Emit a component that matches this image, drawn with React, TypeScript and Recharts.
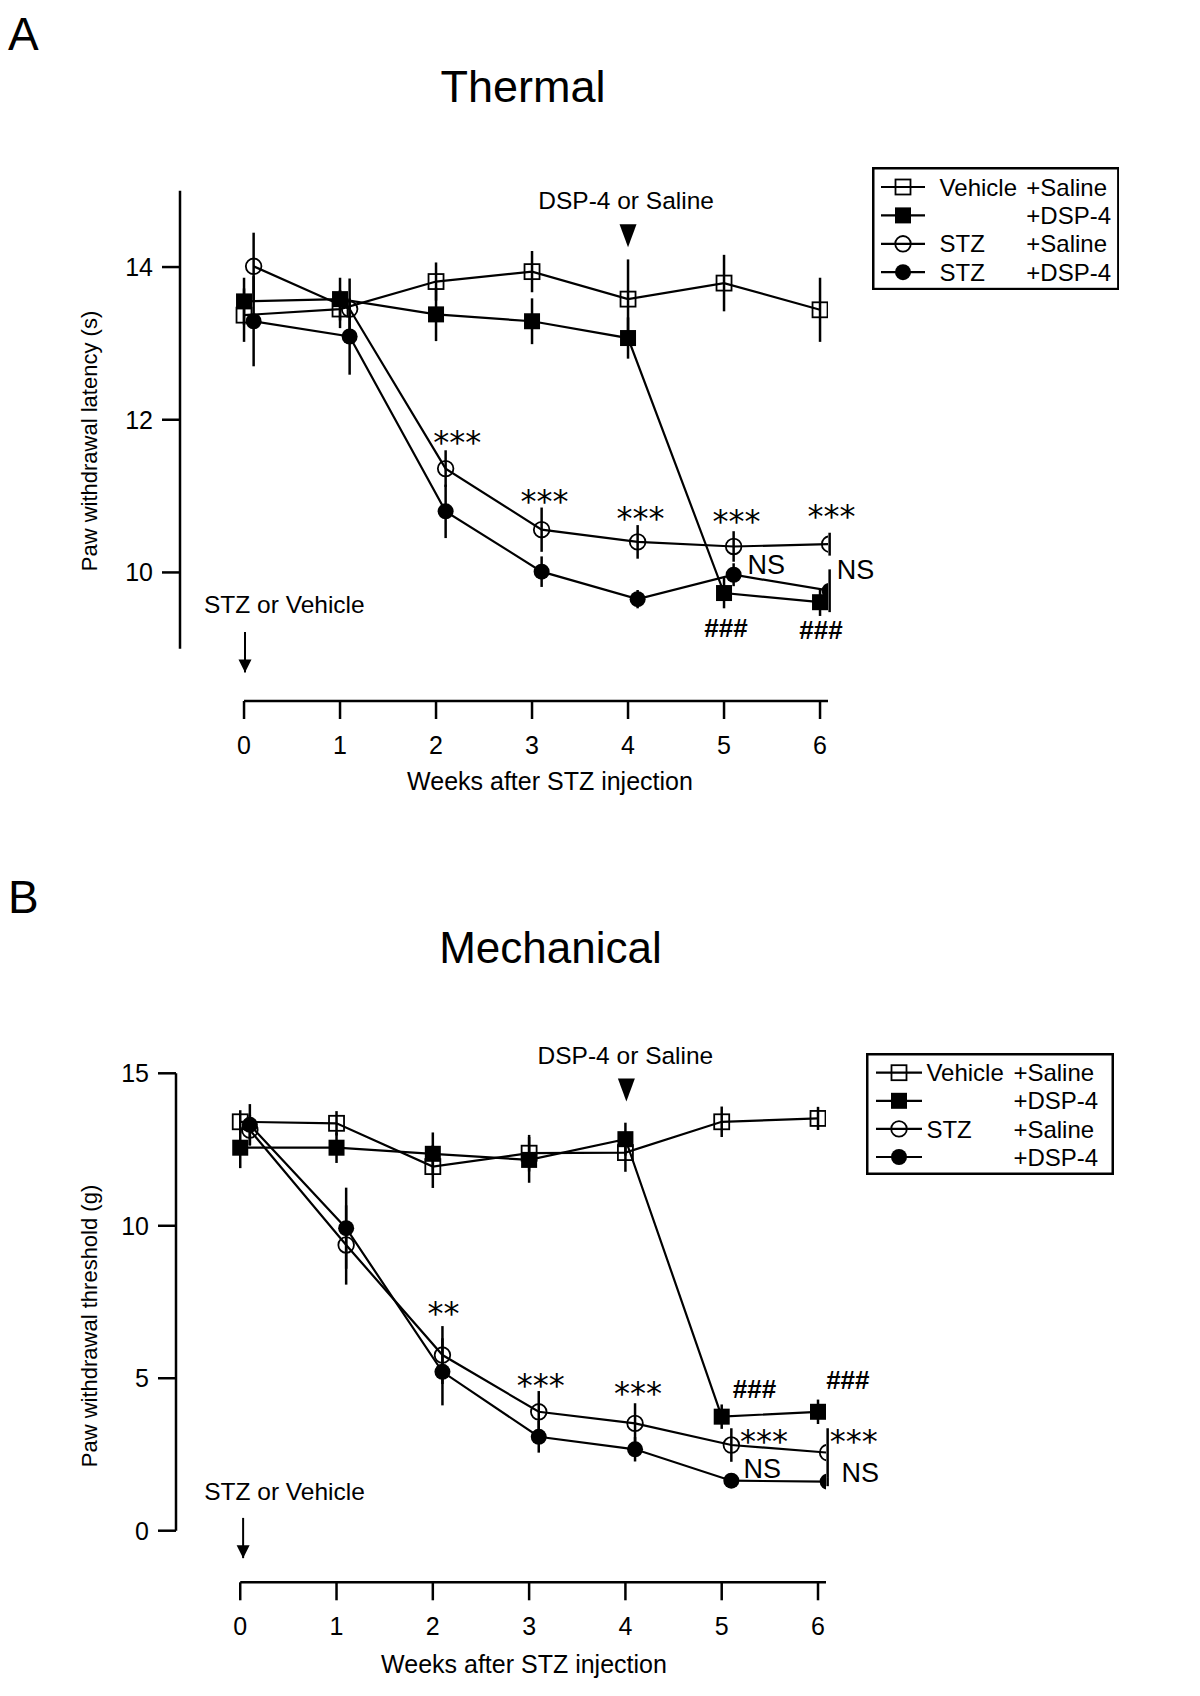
import React from "react";
import { LineChart, Line, XAxis, YAxis, ErrorBar, ReferenceLine, ReferenceDot } from "recharts";

const FONT = '"Liberation Sans", Arial, Helvetica, sans-serif';
const STAR_FONT = '"DejaVu Sans", "Liberation Sans", sans-serif';
const INK = "#000";

// ---- values ----
const WEEKS = [0, 1, 2, 3, 4, 5, 6];

// A: thermal paw withdrawal latency (s), mean and SEM
const THERMAL_VEH_SAL = [13.37, 13.45, 13.81, 13.94, 13.58, 13.79, 13.44];
const THERMAL_VEH_SAL_SEM = [0.35, 0.25, 0.25, 0.27, 0.52, 0.37, 0.42];
const THERMAL_VEH_DSP = [13.55, 13.58, 13.38, 13.29, 13.07, 9.73, 9.61];
const THERMAL_VEH_DSP_SEM = [0.31, 0.28, 0.35, 0.3, 0.27, 0.2, 0.18];
const THERMAL_STZ_SAL = [14.01, 13.45, 11.36, 10.56, 10.4, 10.34, 10.37];
const THERMAL_STZ_SAL_SEM = [0.44, 0.4, 0.24, 0.29, 0.22, 0.2, 0.15];
const THERMAL_STZ_DSP = [13.29, 13.09, 10.8, 10.01, 9.65, 9.97, 9.76];
const THERMAL_STZ_DSP_SEM = [0.59, 0.5, 0.35, 0.2, 0.12, 0.15, 0.28];
const THERMAL_TICKS = [10, 12, 14];

// B: mechanical paw withdrawal threshold (g), mean and SEM
const MECH_VEH_SAL = [13.41, 13.36, 11.94, 12.38, 12.4, 13.41, 13.52];
const MECH_VEH_SAL_SEM = [0.38, 0.4, 0.7, 0.6, 0.63, 0.5, 0.38];
const MECH_VEH_DSP = [12.56, 12.56, 12.36, 12.16, 12.84, 3.74, 3.9];
const MECH_VEH_DSP_SEM = [0.67, 0.5, 0.7, 0.75, 0.54, 0.4, 0.4];
const MECH_STZ_SAL = [13.14, 9.37, 5.76, 3.9, 3.52, 2.81, 2.56];
const MECH_STZ_SAL_SEM = [0.5, 1.3, 0.95, 0.68, 0.66, 0.55, 0.8];
const MECH_STZ_DSP = [13.31, 9.92, 5.21, 3.08, 2.67, 1.64, 1.61];
const MECH_STZ_DSP_SEM = [0.68, 1.33, 1.1, 0.52, 0.4, 0.1, 0.15];
const MECH_TICKS = [0, 5, 10, 15];

const LEGEND_A = [["Vehicle", "+Saline"], ["", "+DSP-4"], ["STZ", "+Saline"], ["STZ", "+DSP-4"]];
const LEGEND_B = [["Vehicle", "+Saline"], ["", "+DSP-4"], ["STZ", "+Saline"], ["", "+DSP-4"]];

// annotations, in (week, value) units
const THERMAL_NOTES = [
  { week: 2.22, value: 11.8, text: "***" },
  { week: 3.13, value: 11.02, text: "***" },
  { week: 4.13, value: 10.8, text: "***" },
  { week: 5.13, value: 10.76, text: "***" },
  { week: 6.12, value: 10.82, text: "***" },
  { week: 5.44, value: 10.11, text: "NS" },
  { week: 6.37, value: 10.04, text: "NS" },
  { week: 5.02, value: 9.28, text: "###" },
  { week: 6.01, value: 9.25, text: "###" },
  { week: 3.98, value: 14.88, text: "DSP-4 or Saline" },
  { week: 0.42, value: 9.59, text: "STZ or Vehicle" },
];
const MECH_NOTES = [
  { week: 2.11, value: 7.35, text: "**" },
  { week: 3.12, value: 4.98, text: "***" },
  { week: 4.13, value: 4.72, text: "***" },
  { week: 5.34, value: 4.65, text: "###" },
  { week: 6.31, value: 4.96, text: "###" },
  { week: 5.44, value: 3.17, text: "***" },
  { week: 6.37, value: 3.17, text: "***" },
  { week: 5.42, value: 2.05, text: "NS" },
  { week: 6.44, value: 1.92, text: "NS" },
  { week: 4.0, value: 15.6, text: "DSP-4 or Saline" },
  { week: 0.46, value: 1.3, text: "STZ or Vehicle" },
];

// ---- layout ----
const X_MIN = -0.667;
const X_MAX = 6.083;
const X_AXIS_H = 60;
const CIRCLE_SHIFT = 0.1;
const TICK_STYLE = { fontSize: "25px", fontFamily: FONT };

type Kind = "openSquare" | "square" | "openCircle" | "circle";
const KINDS: Kind[] = ["openSquare", "square", "openCircle", "circle"];

function build(values: number[], sems: number[], shift: number) {
  return WEEKS.map((w, i) => ({ x: w + shift, y: values[i], err: sems[i] }));
}

function Marker({ kind, cx, cy }: { kind: Kind; cx: number; cy: number }) {
  if (kind === "openSquare")
    return <rect x={cx - 7.5} y={cy - 7.5} width={15} height={15} fill="none" stroke={INK} strokeWidth={1.8} />;
  if (kind === "square") return <rect x={cx - 8} y={cy - 8} width={16} height={16} fill={INK} />;
  if (kind === "openCircle") return <circle cx={cx} cy={cy} r={7.8} fill="none" stroke={INK} strokeWidth={1.8} />;
  return <circle cx={cx} cy={cy} r={8} fill={INK} />;
}

function XTick(p: any) {
  return (
    <text x={p.x} y={p.y} dy="0.71em" textAnchor="middle" fontSize={25} style={TICK_STYLE} fill={INK}>
      {p.payload.value}
    </text>
  );
}

function YTick(p: any) {
  return (
    <text x={p.x} y={p.y} dy="0.36em" textAnchor="end" fontSize={25} style={TICK_STYLE} fill={INK}>
      {p.payload.value}
    </text>
  );
}

function noteShape(text: string) {
  const stars = text.startsWith("*");
  const hashes = text.startsWith("#");
  const long = text.length > 4;
  return (p: any) => (
    <text x={p.cx} y={p.cy} dy={stars ? "0.55em" : "0.36em"} textAnchor="middle" fill={INK}
          fontFamily={stars ? STAR_FONT : FONT} fontWeight={hashes ? 700 : 400}
          fontSize={stars ? 32 : long ? 24.5 : hashes ? 26 : 27}>
      {text}
    </text>
  );
}

function triangleShape(p: any) {
  const { cx, cy } = p;
  return <polygon points={`${cx - 8.5},${cy - 11.5} ${cx + 8.5},${cy - 11.5} ${cx},${cy + 11.5}`} fill={INK} />;
}

function arrowHead(p: any) {
  const { cx, cy } = p;
  return <polygon points={`${cx - 6.5},${cy - 13} ${cx + 6.5},${cy - 13} ${cx},${cy}`} fill={INK} />;
}

interface PanelCfg {
  top: number; height: number;
  plotTop: number; plotBottom: number; plotLeft: number; plotRight: number;
  yDomain: [number, number]; yTicks: number[]; yAxis: [number, number];
  letter: string; letterBase: number;
  title: string; titleX: number; titleBase: number; titleSize: number;
  yLabel: string; yLabelY: number;
  xTitleX: number; xTitleBase: number;
  series: { key: string; kind: Kind; data: { x: number; y: number; err: number }[] }[];
  notes: { week: number; value: number; text: string }[];
  triangle: { week: number; value: number };
  arrow: { week: number; from: number; to: number };
  legendRows: string[][];
  legend: { x: number; y: number; w: number; h: number; row0: number; gap: number; l0: number; l1: number; mark: number; c2: number; c3: number };
}

function LegendBox({ cfg }: { cfg: PanelCfg }) {
  const L = cfg.legend;
  return (
    <svg style={{ position: "absolute", left: L.x, top: L.y }} width={L.w} height={L.h}>
      <rect x={1.25} y={1.25} width={L.w - 2.5} height={L.h - 2.5} fill="#fff" stroke={INK} strokeWidth={2.5} />
      {cfg.legendRows.map((r, i) => {
        const cy = L.row0 + i * L.gap;
        return (
          <g key={i}>
            <line x1={L.l0} x2={L.l1} y1={cy} y2={cy} stroke={INK} strokeWidth={2.2} />
            <Marker kind={KINDS[i]} cx={L.mark} cy={cy} />
            <text x={L.c2} y={cy} dy="0.36em" fontFamily={FONT} fontSize={24} fill={INK}>{r[0]}</text>
            <text x={L.c3} y={cy} dy="0.36em" fontFamily={FONT} fontSize={24} fill={INK}>{r[1]}</text>
          </g>
        );
      })}
    </svg>
  );
}

function Panel({ cfg }: { cfg: PanelCfg }) {
  const axisStroke = { stroke: INK, strokeWidth: 2.5 };
  return (
    <div style={{ position: "absolute", left: 0, top: cfg.top, width: 1200, height: cfg.height }}>
      <LineChart width={1200} height={cfg.height}
                 margin={{ top: cfg.plotTop, right: 1200 - cfg.plotRight, bottom: cfg.height - cfg.plotBottom - X_AXIS_H, left: 0 }}>
        <XAxis dataKey="x" type="number" domain={[X_MIN, X_MAX]} ticks={WEEKS} allowDataOverflow interval={0}
               axisLine={false} tickLine={axisStroke} tickSize={18} tickMargin={17} height={X_AXIS_H} tick={XTick} />
        <YAxis type="number" domain={cfg.yDomain} ticks={cfg.yTicks} allowDataOverflow interval={0} width={cfg.plotLeft}
               axisLine={false} tickLine={axisStroke} tickSize={18} tickMargin={9} tick={YTick} />
        <ReferenceLine segment={[{ x: X_MIN, y: cfg.yAxis[0] }, { x: X_MIN, y: cfg.yAxis[1] }]}
                       stroke={INK} strokeWidth={2.5} ifOverflow="visible" />
        <ReferenceLine segment={[{ x: 0, y: cfg.yDomain[0] }, { x: X_MAX, y: cfg.yDomain[0] }]}
                       stroke={INK} strokeWidth={2.5} ifOverflow="visible" />
        {cfg.series.map((s) => (
          <Line key={s.key} data={s.data} dataKey="y" type="linear" stroke={INK} strokeWidth={2.2}
                activeDot={false} isAnimationActive={false} legendType="none"
                dot={(p: any) => <Marker key={`${s.key}-${p.index}`} kind={s.kind} cx={p.cx} cy={p.cy} />}>
            <ErrorBar dataKey="err" width={0} stroke={INK} strokeWidth={2.5} direction="y" isAnimationActive={false} />
          </Line>
        ))}
        <ReferenceLine segment={[{ x: cfg.arrow.week, y: cfg.arrow.from }, { x: cfg.arrow.week, y: cfg.arrow.to }]}
                       stroke={INK} strokeWidth={2} ifOverflow="visible" />
        <ReferenceDot x={cfg.arrow.week} y={cfg.arrow.to} ifOverflow="visible" shape={arrowHead} />
        <ReferenceDot x={cfg.triangle.week} y={cfg.triangle.value} ifOverflow="visible" shape={triangleShape} />
        {cfg.notes.map((n, i) => (
          <ReferenceDot key={i} x={n.week} y={n.value} ifOverflow="visible" shape={noteShape(n.text)} />
        ))}
      </LineChart>
      <svg style={{ position: "absolute", left: 0, top: 0, pointerEvents: "none" }} width={1200} height={cfg.height}>
        <text x={8} y={cfg.letterBase} fontFamily={FONT} fontSize={46} fill={INK}>{cfg.letter}</text>
        <text x={cfg.titleX} y={cfg.titleBase} textAnchor="middle" fontFamily={FONT} fontSize={cfg.titleSize} fill={INK}>{cfg.title}</text>
        <text x={97} y={cfg.yLabelY} textAnchor="middle" transform={`rotate(-90 97 ${cfg.yLabelY})`}
              fontFamily={FONT} fontSize={22} fill={INK}>{cfg.yLabel}</text>
        <text x={cfg.xTitleX} y={cfg.xTitleBase} textAnchor="middle" fontFamily={FONT} fontSize={25} fill={INK}>
          Weeks after STZ injection
        </text>
      </svg>
      <LegendBox cfg={cfg} />
    </div>
  );
}

const THERMAL: PanelCfg = {
  top: 0, height: 850,
  plotTop: 190.7, plotBottom: 701, plotLeft: 180, plotRight: 828,
  yDomain: [8.316, 15], yTicks: THERMAL_TICKS, yAxis: [9, 15],
  letter: "A", letterBase: 50,
  title: "Thermal", titleX: 523, titleBase: 101.7, titleSize: 45,
  yLabel: "Paw withdrawal latency  (s)", yLabelY: 441,
  xTitleX: 550, xTitleBase: 790,
  series: [
    { key: "vs", kind: "openSquare", data: build(THERMAL_VEH_SAL, THERMAL_VEH_SAL_SEM, 0) },
    { key: "vd", kind: "square", data: build(THERMAL_VEH_DSP, THERMAL_VEH_DSP_SEM, 0) },
    { key: "ss", kind: "openCircle", data: build(THERMAL_STZ_SAL, THERMAL_STZ_SAL_SEM, CIRCLE_SHIFT) },
    { key: "sd", kind: "circle", data: build(THERMAL_STZ_DSP, THERMAL_STZ_DSP_SEM, CIRCLE_SHIFT) },
  ],
  notes: THERMAL_NOTES,
  triangle: { week: 4.0, value: 14.41 },
  arrow: { week: 0.01, from: 9.22, to: 8.69 },
  legendRows: LEGEND_A,
  legend: { x: 871.7, y: 166.7, w: 247.6, h: 123.3, row0: 20, gap: 28.4, l0: 9, l1: 53, mark: 31, c2: 67.6, c3: 154.3 },
};

const MECHANICAL: PanelCfg = {
  top: 850, height: 846,
  plotTop: 223.3, plotBottom: 732.3, plotLeft: 176, plotRight: 826,
  yDomain: [-1.692, 15], yTicks: MECH_TICKS, yAxis: [0, 15],
  letter: "B", letterBase: 62.5,
  title: "Mechanical", titleX: 550.5, titleBase: 113.3, titleSize: 44,
  yLabel: "Paw withdrawal threshold  (g)", yLabelY: 476,
  xTitleX: 524, xTitleBase: 823,
  series: [
    { key: "vs", kind: "openSquare", data: build(MECH_VEH_SAL, MECH_VEH_SAL_SEM, 0) },
    { key: "vd", kind: "square", data: build(MECH_VEH_DSP, MECH_VEH_DSP_SEM, 0) },
    { key: "ss", kind: "openCircle", data: build(MECH_STZ_SAL, MECH_STZ_SAL_SEM, CIRCLE_SHIFT) },
    { key: "sd", kind: "circle", data: build(MECH_STZ_DSP, MECH_STZ_DSP_SEM, CIRCLE_SHIFT) },
  ],
  notes: MECH_NOTES,
  triangle: { week: 4.01, value: 14.45 },
  arrow: { week: 0.03, from: 0.42, to: -0.9 },
  legendRows: LEGEND_B,
  legend: { x: 865.6, y: 203, w: 248, h: 122, row0: 19.7, gap: 28.1, l0: 10, l1: 56, mark: 33, c2: 60.4, c3: 147.4 },
};

export default function App() {
  return (
    <div style={{ position: "absolute", left: 0, top: 0, width: 1200, height: 1696, background: "#fff" }}>
      <Panel cfg={THERMAL} />
      <Panel cfg={MECHANICAL} />
    </div>
  );
}
